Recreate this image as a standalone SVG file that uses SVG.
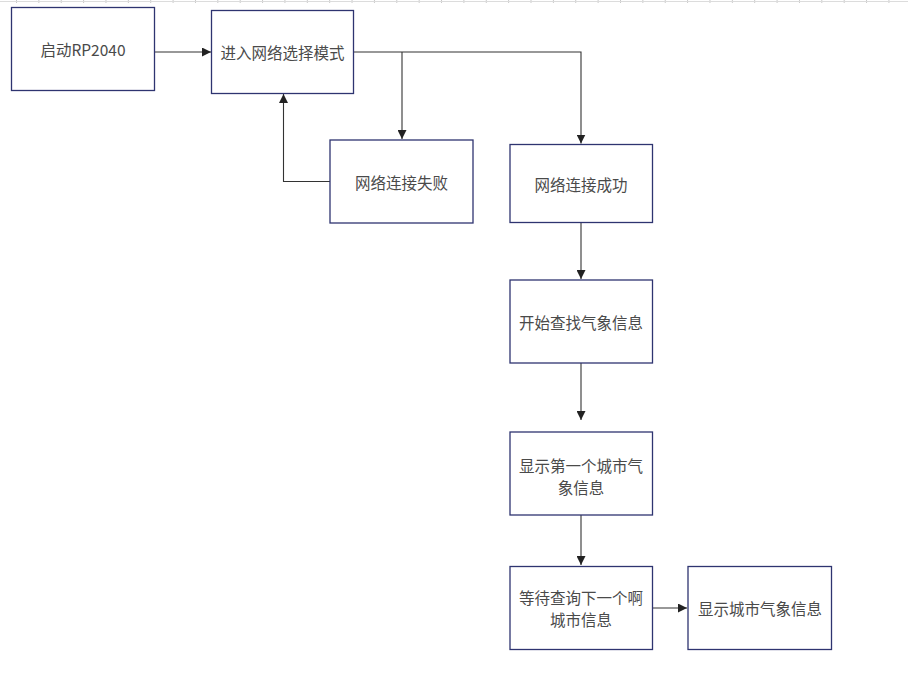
<svg xmlns="http://www.w3.org/2000/svg" width="908" height="690" viewBox="0 0 908 690">
<defs>
<style>
.box{fill:#ffffff;stroke:#2e3470;stroke-width:1.3}
.lbl{font-family:"Noto Sans CJK SC","Noto Sans",sans-serif;font-size:15.5px;fill:#4a4a4a;text-anchor:middle;dominant-baseline:central}
.ln{fill:none;stroke:#333333;stroke-width:1.1}
</style>
<marker id="ah" viewBox="0 0 10 10" refX="10" refY="5" markerWidth="9" markerHeight="9" markerUnits="userSpaceOnUse" orient="auto">
<path d="M0,0 L10,5 L0,10 z" fill="#222222"/>
</marker>
<pattern id="ticks" x="16" y="0" width="22.37" height="4" patternUnits="userSpaceOnUse">
<rect x="0" y="0" width="1" height="3" fill="#c8c8c8"/>
</pattern>
</defs>
<rect width="908" height="690" fill="#ffffff"/>
<g id="ruler">
<rect x="0" y="0" width="908" height="3" fill="url(#ticks)"/>
<line x1="0" y1="1.5" x2="908" y2="1.5" stroke="#dcdcdc" stroke-width="1"/>
</g>
<g id="connectors">
<path class="ln" d="M154.5,52 L211,52" marker-end="url(#ah)"/>
<path class="ln" d="M354,52 L581,52 L581,143.5" marker-end="url(#ah)"/>
<path class="ln" d="M402,52 L402,139" marker-end="url(#ah)"/>
<path class="ln" d="M330,181.5 L283.5,181.5 L283.5,94" marker-end="url(#ah)"/>
<path class="ln" d="M581,222.5 L581,279" marker-end="url(#ah)"/>
<path class="ln" d="M581,363 L581,420" marker-end="url(#ah)"/>
<path class="ln" d="M581,515 L581,565" marker-end="url(#ah)"/>
<path class="ln" d="M652.5,608 L687,608" marker-end="url(#ah)"/>
</g>
<g id="n1"><rect class="box" x="11.5" y="7.5" width="143" height="83"/><text class="lbl" x="83" y="49">启动RP2040</text></g>
<g id="n2"><rect class="box" x="211.5" y="10.5" width="142" height="83"/><text class="lbl" x="282.5" y="52">进入网络选择模式</text></g>
<g id="n3"><rect class="box" x="330" y="140" width="143" height="83"/><text class="lbl" x="401.5" y="181.5">网络连接失败</text></g>
<g id="n4"><rect class="box" x="510" y="144.5" width="142.5" height="78"/><text class="lbl" x="581" y="184">网络连接成功</text></g>
<g id="n5"><rect class="box" x="510" y="280" width="142.5" height="83"/><text class="lbl" x="581" y="322">开始查找气象信息</text></g>
<g id="n6"><rect class="box" x="510" y="432" width="142.5" height="83"/><text class="lbl" x="581" y="465">显示第一个城市气</text><text class="lbl" x="581" y="487">象信息</text></g>
<g id="n7"><rect class="box" x="510" y="566.5" width="142.5" height="83"/><text class="lbl" x="581" y="597">等待查询下一个啊</text><text class="lbl" x="581" y="619">城市信息</text></g>
<g id="n8"><rect class="box" x="688" y="566.5" width="143.5" height="83"/><text class="lbl" x="760" y="608">显示城市气象信息</text></g>
</svg>
